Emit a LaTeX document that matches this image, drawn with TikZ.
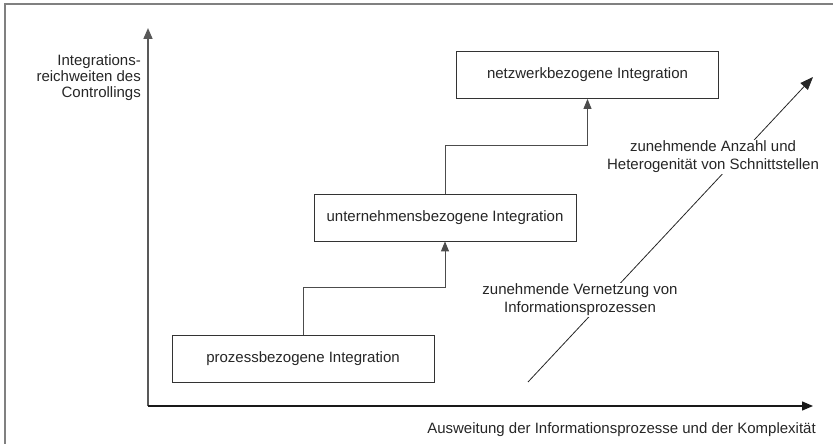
\documentclass[tikz,border=0pt]{standalone}
\usepackage{fontspec}
\setmainfont{Liberation Sans}
\usetikzlibrary{arrows.meta}

\begin{document}
\begin{tikzpicture}[x=1pt,y=-1pt,
  every node/.style={font=\fontsize{15}{17}\selectfont, text=black!85},
  stage/.style={draw=black!80, line width=0.8pt, minimum width=262pt,
    minimum height=47pt, inner sep=0pt, fill=white},
  yaxis/.style={draw=black!65, line width=1.6pt, -{Triangle[length=11pt,width=9pt]}},
  xaxis/.style={draw=black!90, line width=1.3pt, -{Triangle[length=11pt,width=9pt]}},
  link/.style={draw=black!70, line width=0.9pt, -{Triangle[length=10pt,width=8pt]}},
  trend/.style={draw=black!85, line width=0.8pt, -{Triangle[length=13pt,width=10pt]}},
  note/.style={align=center, fill=white, inner sep=1pt,
    font=\fontsize{15}{18}\selectfont},
  frameline/.style={draw=black!50, line width=1.5pt}]
\useasboundingbox (0,0) rectangle (833,444);

% outer frame
\draw[frameline] (5,444) -- (5,4) -- (833,4);

% axes
\coordinate (o) at (148,406);
\coordinate (ytip) at (148,28);
\coordinate (xtip) at (813,406);
\draw[yaxis] (o) -- (ytip);
\draw[xaxis] (o) -- (xtip);

\node[anchor=east, align=right, inner sep=0pt, font=\fontsize{15}{16}\selectfont]
  (ylab) at (141,78) {Integrations-\\reichweiten des\\Controllings};
\node[anchor=east, inner sep=0pt] (xlab) at (816,430)
  {Ausweitung der Informationsprozesse und der Komplexität};

% integration stages
\node[stage] (p) at (303,359) {prozessbezogene Integration};
\node[stage] (u) at (445,217.5) {unternehmensbezogene Integration};
\node[stage] (n) at (587.5,75) {netzwerkbezogene Integration};

\draw[link] (p.north) -- ++(0,-47.5) -| (u.south);
\draw[link] (u.north) -- ++(0,-48) -| (n.south);

% growing interconnection
\coordinate (d0) at (528,382);
\coordinate (d1) at (813,77);
\draw[trend] (d0) -- (d1);
\node[note] (lo) at (580,300) {zunehmende Vernetzung von\\Informationsprozessen};
\node[note] (hi) at (713,157) {zunehmende Anzahl und\\Heterogenität von Schnittstellen};
\end{tikzpicture}
\end{document}
